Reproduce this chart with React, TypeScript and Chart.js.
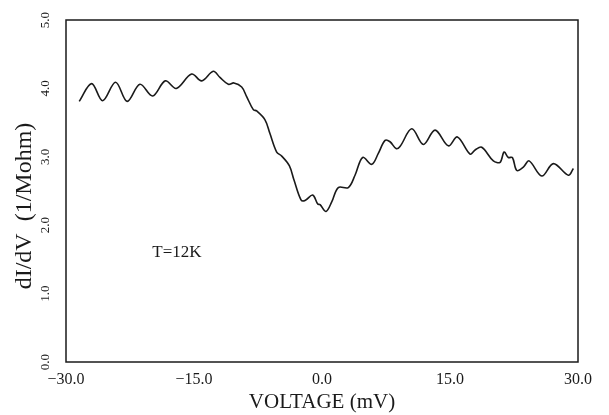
import React, { useEffect, useRef } from 'react';
import { Chart, registerables } from 'chart.js';

Chart.register(...registerables);

const voltage = [
  -28.45, -27.0, -25.71, -24.19, -22.83, -21.34, -19.85, -18.37, -17.08, -15.28,
  -14.1, -12.74, -11.96, -10.98, -10.32, -9.41, -8.83, -8.05, -7.66, -6.68,
  -6.1, -5.31, -4.72, -3.83, -3.28, -2.46, -1.99, -1.09, -0.5, -0.23,
  0.47, 1.14, 1.91, 3.08, 3.87, 4.77, 5.83, 6.6, 7.39, 7.97,
  8.68, 9.14, 10.52, 11.88, 13.25, 14.81, 15.86, 17.35, 17.94, 18.72,
  20.08, 20.87, 21.34, 21.84, 22.31, 22.83, 23.6, 24.27, 25.76, 27.12,
  28.87, 29.46,
];
const conductance = [
  3.81, 4.07, 3.82, 4.09, 3.81, 4.06, 3.89, 4.11, 4.0, 4.21,
  4.11, 4.25, 4.16, 4.06, 4.08, 4.02, 3.88, 3.69, 3.67, 3.54,
  3.34, 3.07, 3.01, 2.87, 2.66, 2.37, 2.36, 2.44, 2.31, 2.3,
  2.2, 2.34, 2.55, 2.55, 2.73, 2.99, 2.89, 3.05, 3.24, 3.22,
  3.12, 3.15, 3.41, 3.18, 3.39, 3.16, 3.29, 3.04, 3.1, 3.14,
  2.94, 2.92, 3.07, 2.99, 2.99, 2.8, 2.85, 2.94, 2.72, 2.9,
  2.73, 2.83,
];
const xTicks = [-30, -15, 0, 15, 30];
const yTicks = [0, 1, 2, 3, 4, 5];
const xTitle = 'VOLTAGE (mV)';
const yTitle = 'dI/dV  (1/Mohm)';
const noteText = 'T=12K';
const noteX = -17;
const noteY = 1.6;

const FONT = '"Liberation Serif", "DejaVu Serif", serif';
const INK = '#1a1a1a';

const fmt = (v: number) => (v < 0 ? '\u2212' : '') + Math.abs(v).toFixed(1);

const boxPlugin = {
  id: 'boxPlugin',
  afterDraw(chart: any) {
    const { ctx, chartArea: a, scales } = chart;
    ctx.save();
    ctx.strokeStyle = INK;
    ctx.lineWidth = 1.5;
    ctx.strokeRect(a.left, a.top, a.right - a.left, a.bottom - a.top);
    ctx.font = `17px ${FONT}`;
    ctx.fillStyle = INK;
    ctx.textAlign = 'center';
    ctx.textBaseline = 'middle';
    ctx.fillText(noteText, scales.x.getPixelForValue(noteX), scales.y.getPixelForValue(noteY));
    ctx.restore();
  },
};

export default function App() {
  const ref = useRef<HTMLCanvasElement | null>(null);
  useEffect(() => {
    if (!ref.current) return;
    const data = voltage.map((v, i) => ({ x: v, y: conductance[i] }));
    const chart = new Chart(ref.current, {
      type: 'scatter',
      data: {
        datasets: [
          {
            data,
            showLine: true,
            borderColor: INK,
            borderWidth: 1.6,
            pointRadius: 0,
            tension: 0.35,
            fill: false,
          },
        ],
      },
      options: {
        responsive: false,
        animation: false,
        layout: { padding: { top: 20, right: 31, left: 0, bottom: 0 } },
        plugins: { legend: { display: false }, tooltip: { enabled: false } },
        scales: {
          x: {
            type: 'linear',
            min: -30,
            max: 30,
            afterBuildTicks: (s: any) => {
              s.ticks = xTicks.map((v) => ({ value: v }));
            },
            afterFit: (s: any) => {
              s.height = 53;
            },
            grid: { display: false, drawTicks: false },
            border: { display: false },
            ticks: {
              callback: (v: any) => fmt(Number(v)),
              font: { family: FONT, size: 16 },
              color: INK,
              padding: 8,
              maxRotation: 0,
              minRotation: 0,
            },
            title: {
              display: true,
              text: xTitle,
              font: { family: FONT, size: 21 },
              color: INK,
              padding: { top: 0, bottom: 0 },
            },
          },
          y: {
            type: 'linear',
            min: 0,
            max: 5,
            afterBuildTicks: (s: any) => {
              s.ticks = yTicks.map((v) => ({ value: v }));
            },
            afterFit: (s: any) => {
              s.width = 66;
            },
            grid: { display: false, drawTicks: false },
            border: { display: false },
            ticks: {
              callback: (v: any) => fmt(Number(v)),
              font: { family: FONT, size: 13 },
              color: INK,
              minRotation: 90,
              maxRotation: 90,
              crossAlign: 'center',
              padding: 12,
            },
            title: {
              display: true,
              text: yTitle + '     ',
              font: { family: FONT, size: 24 },
              color: INK,
              padding: { top: 10, bottom: 0 },
            },
          },
        },
      },
      plugins: [boxPlugin],
    } as any);
    return () => chart.destroy();
  }, []);
  return (
    <div style={{ position: 'absolute', left: 0, top: 0, width: 609, height: 415, background: '#fff' }}>
      <canvas ref={ref} width={609} height={415} />
    </div>
  );
}
